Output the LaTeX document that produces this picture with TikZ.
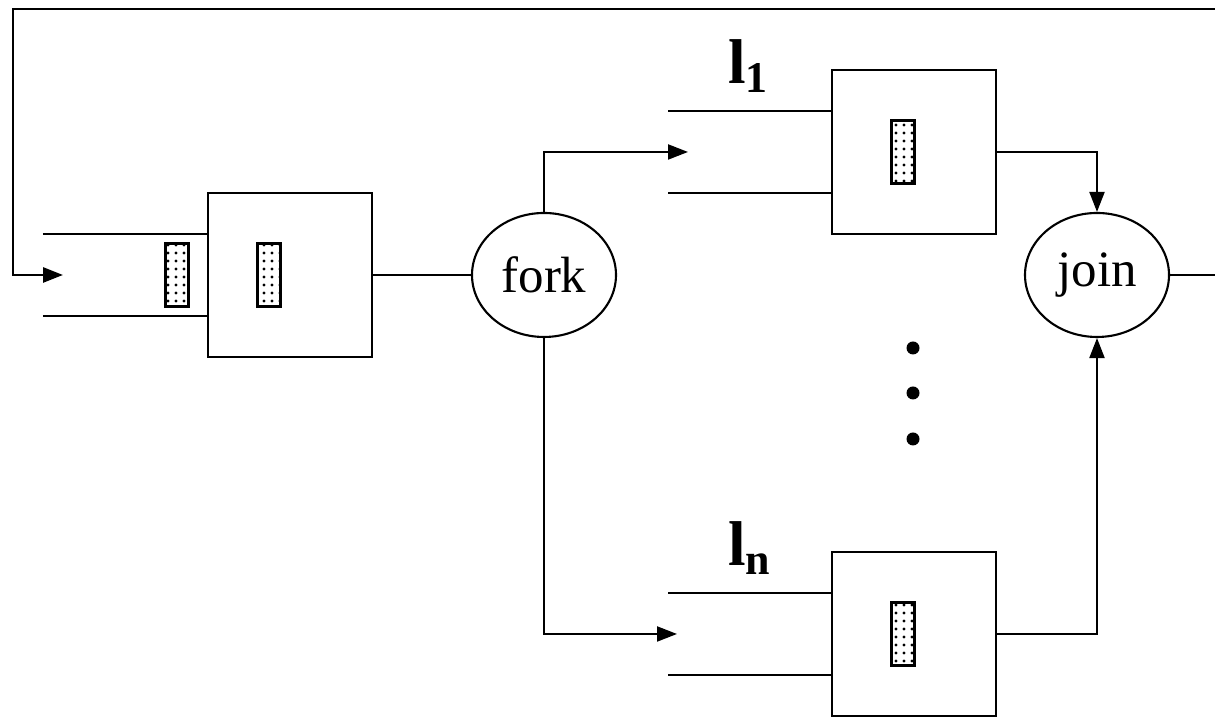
\documentclass[tikz,border=0pt]{standalone}
\usepackage{fontspec}
\setmainfont{Liberation Serif}
\usetikzlibrary{shapes.geometric, arrows.meta, patterns.meta}

\newcommand{\qlabel}[1]{\fontsize{18}{20}\selectfont\bfseries l\raisebox{-2.3pt}{\fontsize{12.5}{14}\selectfont #1}}

\begin{document}
\begin{tikzpicture}[
    line width=0.6pt,
    server/.style = {draw, line width=0.7pt, minimum width=1.64cm, minimum height=1.64cm, inner sep=0pt},
    job/.style = {draw, line width=0.7pt, minimum width=0.23cm, minimum height=0.63cm, inner sep=0pt,
                  pattern={Dots[distance=0.8mm, radius=0.45pt]}},
    junction/.style = {draw, shape=ellipse, minimum width=1.44cm, minimum height=1.24cm, inner sep=0pt,
                       font=\fontsize{14.5}{16}\selectfont},
    queue/.style = {line width=0.75pt},
    flow/.style = {-{Triangle[length=0.2cm, width=0.15cm]}},
    dot/.style = {shape=circle, fill, minimum size=0.13cm, inner sep=0pt},
    qname/.style = {anchor=base west, inner sep=0pt}
    ]
    \path[use as bounding box, fill=white] (0,0) rectangle (12.15,7.17);

    % Entry queue and first server
    \node[server] (srv0)     at (2.90, 4.42) {};
    \node[job]    (srv0 job) at (2.69, 4.42) {};
    \node[job]    (q0 job)   at (1.77, 4.42) {};
    \coordinate   (q0 top)   at (0.43, 4.83);
    \coordinate   (q0 bot)   at (0.43, 4.01);
    \coordinate   (q0 in)    at (0.63, 4.42);

    \node[junction] (fork) at (5.44, 4.42) {fork};
    \node[junction] (join) at (10.97, 4.42) {join};

    % Branch 1
    \node[server] (srv1)     at (9.14, 5.65) {};
    \node[job]    (srv1 job) at (9.03, 5.65) {};
    \coordinate   (q1 top)   at (6.68, 6.06);
    \coordinate   (q1 bot)   at (6.68, 5.24);
    \coordinate   (q1 in)    at (6.88, 5.65);
    \node[qname] (q1 lbl) at (7.27, 6.33) {\qlabel{1}};

    % Branch n
    \node[server] (srvn)     at (9.14, 0.83) {};
    \node[job]    (srvn job) at (9.03, 0.83) {};
    \coordinate   (qn top)   at (6.68, 1.24);
    \coordinate   (qn bot)   at (6.68, 0.42);
    \coordinate   (qn in)    at (6.77, 0.83);
    \node[qname] (qn lbl) at (7.27, 1.51) {\qlabel{n}};

    % Dots between branches
    \node[dot] (dot a) at (9.13, 3.69) {};
    \node[dot] (dot b) at (9.13, 3.24) {};
    \node[dot] (dot c) at (9.13, 2.78) {};

    % Queue walls
    \draw[queue] (q0 top) -- (q0 top -| srv0.west);
    \draw[queue] (q0 bot) -- (q0 bot -| srv0.west);
    \draw[queue] (q1 top) -- (q1 top -| srv1.west);
    \draw[queue] (q1 bot) -- (q1 bot -| srv1.west);
    \draw[queue] (qn top) -- (qn top -| srvn.west);
    \draw[queue] (qn bot) -- (qn bot -| srvn.west);

    % Connections
    \draw (srv0.east) -- (fork.west);
    \draw[flow] (fork.north) |- (q1 in);
    \draw[flow] (fork.south) |- (qn in);
    \draw[flow] (srv1.east) -| (join.north);
    \draw[flow] (srvn.east) -| (join.south);

    % Feedback loop
    \draw[flow, line width=0.75pt] (join.east) -- (12.30, 4.42) |- (0.13, 7.08) |- (q0 in);

\end{tikzpicture}
\end{document}
